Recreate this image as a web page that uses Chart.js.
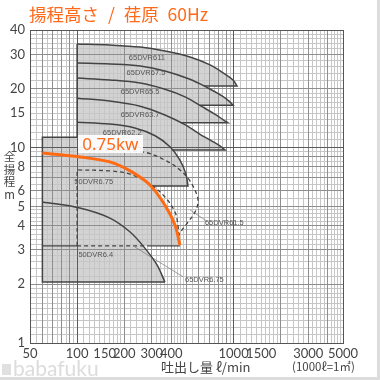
<!DOCTYPE html>
<html lang="ja">
<head>
<meta charset="utf-8">
<script src="https://cdn.jsdelivr.net/npm/chart.js@4.4.1/dist/chart.umd.min.js"></script>
<style>
html,body{margin:0;padding:0;background:#fff;}
#wrap{position:relative;width:380px;height:380px;overflow:hidden;background:#fff;}
#frame{position:absolute;left:0;top:0;width:377px;height:377px;border-right:3px solid #dcdcdc;border-bottom:3px solid #dcdcdc;pointer-events:none;}
#c{position:absolute;left:0;top:0;}
.txt{position:absolute;white-space:nowrap;line-height:1;}
#title{left:29px;top:5px;font-size:17.5px;font-family:"Noto Sans CJK JP",sans-serif;color:#ff6a1a;word-spacing:5px;}
#ytitle{left:3px;top:150px;width:13px;font-size:11.5px;font-family:"Noto Sans CJK JP",sans-serif;color:#444;text-align:center;line-height:12.5px;white-space:normal;}
#xtitle{left:161px;top:360px;font-size:13px;font-family:"Noto Sans CJK JP",sans-serif;color:#444;}
#unit{left:292px;top:361px;font-size:11.5px;font-family:"Noto Sans CJK JP",sans-serif;color:#444;}
#brand{left:13px;top:357px;font-size:21px;font-family:"Lato",sans-serif;color:#dcdcdc;}
#icon{position:absolute;left:2px;top:364px;width:9px;height:11px;background:#e0e0e0;}
.cl{position:absolute;white-space:nowrap;font-size:7.5px;font-family:"Liberation Sans",Arial,sans-serif;color:#555;transform:translateY(-50%);line-height:1;}
#kw{position:absolute;width:65px;height:18px;background:rgba(255,255,255,0.9);color:#ff6a1a;font-size:17px;font-family:"Noto Sans",sans-serif;line-height:18px;text-align:center;}
</style>
</head>
<body>
<div id="wrap">
  <canvas id="c" width="380" height="380"></canvas>
  <div class="txt" id="title">揚程高さ / 荏原 60Hz</div>
  <div class="txt" id="ytitle">全<br>揚<br>程<br>m</div>
  <div class="txt" id="xtitle">吐出し量 ℓ/min</div>
  <div class="txt" id="unit">(1000ℓ=1㎥)</div>
  <div id="icon"></div>
  <div class="txt" id="brand">babafuku</div>
  <div id="kw">0.75kw</div>
  <div id="frame"></div>
</div>
<script>
// ---- tick labels ----
const xTickLabels = [50, 100, 150, 200, 300, 400, 1000, 1500, 3000, 5000];
const yTickLabels = [1, 2, 3, 4, 5, 6, 8, 10, 15, 20, 30, 40];

// ---- performance curves: flow (l/min), head (m) ----
const q65_611 = [100, 162, 253, 364, 526, 707, 881, 991, 1051];
const h65_611 = [33.9, 33.5, 32.7, 31.2, 29.1, 26.5, 23.8, 22.2, 20.7];
const q65_675 = [100, 162, 253, 364, 526, 686, 843, 935, 991];
const h65_675 = [27.1, 26.8, 26.2, 24.7, 22.4, 20.2, 18.4, 17.3, 16.5];
const q65_655 = [100, 162, 253, 364, 489, 638, 772, 868, 921];
const h65_655 = [22.7, 22.2, 21.4, 19.9, 18.2, 16.1, 14.7, 13.8, 13.4];
const q65_637 = [100, 162, 253, 364, 489, 610, 727, 818, 881];
const h65_637 = [17.9, 17.3, 16.3, 14.7, 13.1, 11.7, 10.8, 10.2, 9.71];
const q65_622 = [100, 162, 234, 315, 392, 454, 496, 511];
const h65_622 = [13.5, 13.2, 12.6, 11.5, 10.1, 8.63, 7.32, 6.36];
const q50_675 = [60, 104, 162, 218, 292, 364, 422, 454];      // orange 0.75kw
const h50_675 = [9.38, 8.95, 8.45, 7.6, 6.44, 5.08, 4.02, 3.17];
const q50_64 = [60, 104, 162, 218, 271, 324, 364];
const h50_64 = [5.27, 4.91, 4.36, 3.70, 3.06, 2.51, 2.05];
const q65_675d = [100, 162, 218, 292, 364, 422, 441, 447];     // dashed
const h65_675d = [7.69, 7.60, 7.32, 6.52, 5.59, 4.68, 4.0, 3.45];
const q65_615d = [100, 264, 364, 454, 526, 583, 592, 567, 518, 454, 435]; // dashed bulge
const h65_615d = [9.75, 9.49, 8.63, 7.69, 6.75, 5.72, 5.21, 4.68, 4.21, 3.66, 3.37];

// region limits
const q65Left = 100, q50Left = 60;
const h50Top = 11.3, h50Bottom = 2.05, h675Bottom = 3.14;

// curve labels: text, flow, head
const labelText = ['65DVR611', '65DVR67.5', '65DVR65.5', '65DVR63.7', '65DVR62.2', '50DVR6.75', '65DVR61.5', '50DVR6.4', '65DVR6.75'];
const labelQ = [214, 207, 190, 190, 146, 96, 656, 102, 489];
const labelH = [28.8, 24.1, 19.3, 14.7, 11.9, 6.67, 4.11, 2.82, 2.10];
const kwQ = 101, kwH = 11.6;
// leader lines
const lead1Q = [526, 675], lead1H = [4.80, 4.20];
const lead2Q = [234, 476], lead2H = [3.10, 2.18];

// ---- helpers ----
const pts = (qs, hs) => qs.map((q, i) => ({x: q, y: hs[i]}));
const sharp = p => [p, {x: p.x, y: p.y}];
function qAtH(qs, hs, h) {
  for (let i = 0; i < hs.length - 1; i++) {
    if ((hs[i] - h) * (hs[i + 1] - h) <= 0) {
      const t = (Math.log(h) - Math.log(hs[i])) / (Math.log(hs[i + 1]) - Math.log(hs[i]));
      return Math.exp(Math.log(qs[i]) + t * (Math.log(qs[i + 1]) - Math.log(qs[i])));
    }
  }
  return qs[0];
}
function curvePts(qs, hs) { // endpoints doubled to keep corners sharp
  const p = pts(qs, hs);
  return [...sharp(p[0]), ...p.slice(1, -1), ...sharp(p[p.length - 1])];
}
function logPaper(lo, hi) {
  const out = [];
  for (let e = -1; e <= 4; e++) {
    const p = Math.pow(10, e);
    for (const [a, b, s] of [[1, 2, 0.1], [2, 5, 0.2], [5, 10, 0.5]]) {
      for (let k = 0; a + k * s < b - 1e-9; k++) {
        const v = +((a + k * s) * p).toPrecision(6);
        if (v >= lo - 1e-9 && v <= hi + 1e-9) out.push(v);
      }
    }
  }
  return [...new Set(out)].sort((a, b) => a - b);
}
function gridColor(v, lo, hi) {
  if (Math.abs(v - lo) < 1e-9 || Math.abs(v - hi) < 1e-9) return '#555';
  const e = Math.floor(Math.log10(v) + 1e-9);
  const m = v / Math.pow(10, e);
  if (Math.abs(m - 1) < 1e-6) return '#5a5a5a';
  if (Math.abs(m - Math.round(m)) < 1e-6) return '#8e8e8e';
  return '#c6c6c6';
}
const rnd = v => +v.toPrecision(6);

const FILL = '#d3d3d3', LINE = '#444', ORANGE = '#ff6a13', T = 0.35;
const fillDs = (points, tension) => ({data: points, showLine: true, fill: 'shape', backgroundColor: FILL,
  borderColor: 'rgba(0,0,0,0)', borderWidth: 0, pointRadius: 0, tension: tension === undefined ? T : tension, order: 10});
const lineDs = (points, color, width, dash, order, tension) => ({data: points, showLine: true, fill: false,
  borderColor: color, borderWidth: width, borderDash: dash || [], pointRadius: 0,
  tension: tension === undefined ? T : tension, order: order === undefined ? 2 : order});

const stack = [[q65_611, h65_611], [q65_675, h65_675], [q65_655, h65_655], [q65_637, h65_637], [q65_622, h65_622]];
const datasets = [];
// fills
stack.forEach(([q, h]) => {
  const hb = h[h.length - 1];
  datasets.push(fillDs([...sharp({x: q65Left, y: hb}), ...curvePts(q, h)]));
});
datasets.push(fillDs([{x: q50Left, y: h50Top}, {x: q65Left, y: h50Top}, {x: q65Left, y: h50Bottom}, {x: q50Left, y: h50Bottom}], 0));
datasets.push(fillDs([...sharp({x: q50Left, y: h675Bottom}), ...curvePts(q50_675, h50_675), ...sharp({x: q50_675[q50_675.length - 1], y: h675Bottom})]));
datasets.push(fillDs([...sharp({x: q50Left, y: h50Bottom}), ...curvePts(q50_64, h50_64)]));

// strokes of 65DVR stack
stack.forEach(([q, h], i) => {
  const hb = h[h.length - 1];
  const next = stack[i + 1] || [q50_675, h50_675];
  const qb = qAtH(next[0], next[1], hb);
  datasets.push(lineDs([...curvePts(q, h), {x: qb, y: hb}], LINE, 1.5));
});
datasets.push(lineDs([{x: q65Left, y: h65_611[0]}, {x: q65Left, y: h50Top}], LINE, 1.5, [], 2, 0));
datasets.push(lineDs([{x: q65Left, y: h50Top}, {x: q50Left, y: h50Top}, {x: q50Left, y: h50Bottom}, {x: q50_64[q50_64.length - 1], y: h50Bottom}], LINE, 1.5, [], 2, 0));
datasets.push(lineDs(pts(q50_64, h50_64), LINE, 1.5));
datasets.push(lineDs([{x: q50Left, y: h675Bottom}, {x: q65Left, y: h675Bottom}], LINE, 1.2, [], 2, 0));
datasets.push(lineDs([{x: 292, y: h675Bottom}, {x: q50_675[q50_675.length - 1], y: h675Bottom}], LINE, 1.2, [], 2, 0));
datasets.push(lineDs([{x: q65Left, y: h675Bottom}, ...sharp({x: q65Left, y: h65_675d[0]}), ...pts(q65_675d, h65_675d).slice(1)], LINE, 1.3, [4, 3]));
datasets.push(lineDs([{x: q65Left, y: h675Bottom}, {x: 292, y: h675Bottom}], LINE, 1.3, [4, 3], 2, 0));
datasets.push(lineDs(pts(q65_615d, h65_615d), LINE, 1.3, [4, 3]));
datasets.push(lineDs(pts(lead1Q, lead1H), '#777', 0.7, [], 2, 0));
datasets.push(lineDs(pts(lead2Q, lead2H), '#777', 0.7, [], 2, 0));
datasets.push(lineDs(pts(q50_675, h50_675), ORANGE, 3, [], 0));

const xGrid = logPaper(50, 5000);
const yGrid = logPaper(1, 40);

const blend = {
  id: 'blend',
  beforeDraw(chart) { chart.ctx.globalCompositeOperation = 'darken'; },
  beforeDatasetsDraw(chart) { chart.ctx.globalCompositeOperation = 'source-over'; },
  afterRender(chart) {
    const wrap = document.getElementById('wrap');
    const xs = chart.scales.x, ys = chart.scales.y;
    labelText.forEach((t, i) => {
      let el = document.getElementById('cl' + i);
      if (!el) { el = document.createElement('div'); el.id = 'cl' + i; el.className = 'cl'; el.textContent = t; wrap.insertBefore(el, document.getElementById('kw')); }
      el.style.left = xs.getPixelForValue(labelQ[i]) + 'px';
      el.style.top = ys.getPixelForValue(labelH[i]) + 'px';
    });
    const kw = document.getElementById('kw');
    kw.style.left = xs.getPixelForValue(kwQ) + 'px';
    kw.style.top = ys.getPixelForValue(kwH) + 'px';
  }
};

new Chart(document.getElementById('c'), {
  type: 'scatter',
  data: {datasets},
  plugins: [blend],
  options: {
    responsive: false, animation: false, devicePixelRatio: 1,
    layout: {padding: {top: 30, right: 37, left: 0, bottom: 0}},
    plugins: {legend: {display: false}, tooltip: {enabled: false}, filler: {drawTime: 'beforeDatasetsDraw'}},
    scales: {
      x: {
        type: 'logarithmic', min: 50, max: 5000, position: 'bottom',
        afterBuildTicks: ax => { ax.ticks = xGrid.map(v => ({value: v})); },
        afterFit: ax => { ax.height = 37; },
        ticks: {autoSkip: false, maxRotation: 0, minRotation: 0, padding: 3, color: '#444',
          font: {family: 'Lato', size: 13},
          callback: v => xTickLabels.includes(rnd(v)) ? String(rnd(v)) : ''},
        grid: {drawTicks: false, color: c => gridColor(c.tick.value, 50, 5000), lineWidth: 1},
        border: {display: true, color: '#555'}
      },
      y: {
        type: 'logarithmic', min: 1, max: 40, position: 'left',
        afterBuildTicks: ax => { ax.ticks = yGrid.map(v => ({value: v})); },
        afterFit: ax => { ax.width = 30; },
        ticks: {autoSkip: false, padding: 5, color: '#444', font: {family: 'Lato', size: 13},
          callback: v => yTickLabels.includes(rnd(v)) ? String(rnd(v)) : ''},
        grid: {drawTicks: false, color: c => gridColor(c.tick.value, 1, 40), lineWidth: 1},
        border: {display: true, color: '#555'}
      }
    }
  }
});
</script>
</body>
</html>
